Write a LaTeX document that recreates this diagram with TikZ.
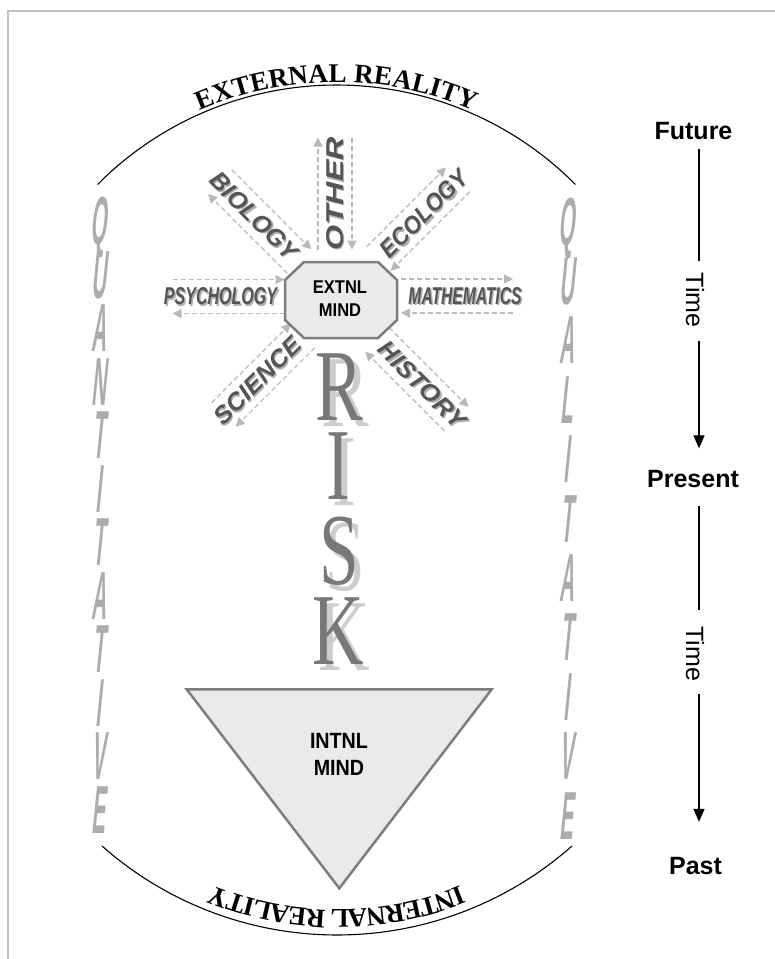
\documentclass[tikz,border=0pt]{standalone}
\usepackage{fontspec}
\setmainfont{Liberation Sans}
\newfontfamily\serifface{Liberation Serif}
\newfontfamily\mindface{Liberation Sans Bold}
\usetikzlibrary{arrows.meta,decorations.text,calc}
\definecolor{framegray}{RGB}{195,195,195}
\definecolor{spokegray}{RGB}{185,185,185}
\definecolor{labeldark}{RGB}{85,85,85}
\definecolor{labelshadow}{RGB}{175,175,175}
\definecolor{riskmain}{RGB}{120,120,120}
\definecolor{riskshadow}{RGB}{205,205,205}
\definecolor{sidegray}{RGB}{172,172,172}
\definecolor{boxfill}{RGB}{234,234,234}
\definecolor{boxline}{RGB}{125,125,125}
\newcommand{\realityfont}{\fontsize{27}{27}\selectfont\serifface\bfseries}
\newcommand{\spoketext}[1]{\resizebox{113pt}{17pt}{\bfseries\itshape #1}}
\newcommand{\sideletter}[1]{\scalebox{0.3}[1]{\fontsize{68}{68}\selectfont\bfseries #1}}
\newcommand{\riskletter}[1]{\scalebox{0.7}[1]{\fontsize{102}{102}\selectfont\serifface #1}}
\newcommand{\mindline}[2]{\scalebox{1}[1.12]{\fontsize{#1}{#1}\selectfont\bfseries #2}}
\tikzset{
  spoke/.style={draw=spokegray, line width=1.2pt, dash pattern=on 5pt off 3pt,
    -{Triangle[length=9pt,width=9pt]}},
  spokelabel/.style={inner sep=0pt, text=labeldark},
  spokeshadow/.style={inner sep=0pt, text=labelshadow},
  sidechar/.style={inner sep=0pt, text=sidegray, text height=48pt, text depth=0pt, xslant=0.1},
  riskchar/.style={inner sep=0pt, text=riskmain, text height=67pt, text depth=0pt},
  riskshade/.style={inner sep=0pt, text=riskshadow, text height=67pt, text depth=0pt},
  mindbox/.style={draw=boxline, fill=boxfill, line width=2.5pt, line join=miter},
  mindword/.style={inner sep=0pt, text=black},
  timelbl/.style={inner sep=0pt, text height=18pt, text depth=0pt, font=\fontsize{25}{25}\selectfont\bfseries},
  timeword/.style={inner sep=0pt, text height=18pt, text depth=0pt, font=\fontsize{25}{25}\selectfont, rotate=-90},
  timeline/.style={draw=black, line width=1.3pt},
  timearrow/.style={timeline, -{Triangle[length=13pt,width=11pt]}},
  realityarc/.style={draw=black, line width=1.1pt},
}
\begin{document}
\begin{tikzpicture}[x=1pt,y=-1pt]
\useasboundingbox (0,0) rectangle (775,959);
\fill[white] (0,0) rectangle (775,959);
% frame
\draw[framegray, line width=2pt] (7.5,959) -- (7.5,10.5) -- (775,10.5);

% reality arcs
\draw[realityarc] plot[domain=224.8:315.2, samples=80] ({336.5+336.8*cos(\x)},{421.8+336.8*sin(\x)});
\path[decorate, decoration={text along path, text={|\realityfont|EXTERNAL REALITY}, text align=center, raise=3pt}]
  plot[domain=224.8:315.2, samples=80] ({336.5+336.8*cos(\x)},{421.8+336.8*sin(\x)});
\draw[realityarc] plot[domain=48.5:131.5, samples=80] ({337+354.8*cos(\x)},{580.2+354.8*sin(\x)});
\path[decorate, decoration={text along path, text={|\realityfont|INTERNAL REALITY}, text align=center, raise=-25pt}]
  plot[domain=48.5:131.5, samples=80] ({337+354.8*cos(\x)},{580.2+354.8*sin(\x)});

% side words
\foreach \c [count=\i from 0] in {Q,U,A,N,T,I,T,A,T,I,V,E}
  \node[sidechar] (quan\i) at (101,{220.5+53.5*\i}) {\sideletter{\c}};
\foreach \c [count=\i from 0] in {Q,U,A,L,I,T,A,T,I,V,E}
  \node[sidechar] (qual\i) at (569,{221+59.4*\i}) {\sideletter{\c}};

% spokes
\foreach \nm/\lab/\ang/\rot/\lx/\ly/\sh in {psy/PSYCHOLOGY/180/0/220.5/296.5/8, mat/MATHEMATICS/0/0/465/296/8, oth/OTHER/270/90/335/193.5/0, bio/BIOLOGY/225/-45/254/216/8, eco/ECOLOGY/315/45/424/213.5/8, sci/SCIENCE/135/45/257.5/380.8/8, his/HISTORY/45/-45/422.5/385/8}{
  \coordinate (\nm-c) at ({\lx-\sh*cos(\ang)},{\ly-\sh*sin(\ang)});
  \coordinate (\nm-io) at ($(\nm-c)+({56*cos(\ang)-17*sin(\ang)},{56*sin(\ang)+17*cos(\ang)})$);
  \coordinate (\nm-ii) at ($(\nm-c)+({-56*cos(\ang)-17*sin(\ang)},{-56*sin(\ang)+17*cos(\ang)})$);
  \coordinate (\nm-oi) at ($(\nm-c)+({-56*cos(\ang)+17*sin(\ang)},{-56*sin(\ang)-17*cos(\ang)})$);
  \coordinate (\nm-oo) at ($(\nm-c)+({56*cos(\ang)+17*sin(\ang)},{56*sin(\ang)-17*cos(\ang)})$);
  \draw[spoke] (\nm-io) -- (\nm-ii);
  \draw[spoke] (\nm-oi) -- (\nm-oo);
  \node[spokeshadow, rotate=\rot] (\nm-sh) at ({\lx+1.5},{\ly+1.5}) {\spoketext{\lab}};
  \node[spokelabel, rotate=\rot] (\nm) at (\lx,\ly) {\spoketext{\lab}};
}

% external mind octagon
\draw[mindbox] (304,262) -- (378,262) -- (397,280) -- (397,320) -- (378,338) -- (304,338) -- (285,320) -- (285,280) -- cycle;
\node[mindword] (ext1) at (340,287) {\mindline{16.5}{EXTNL}};
\node[mindword] (ext2) at (340,310.3) {\mindline{16.5}{MIND}};

% RISK
\foreach \c/\yy/\xx [count=\i] in {R/386.5/339, I/466/338, S/550.5/339, K/631/338}{
  \node[riskshade] (risksh\i) at ({\xx+6},{\yy+6}) {\riskletter{\c}};
  \node[riskchar] (risk\i) at (\xx,\yy) {\riskletter{\c}};
}

% internal mind triangle
\draw[mindbox] (186.7,689.3) -- (491.7,689.3) -- (339.3,888.3) -- cycle;
\node[mindword] (int1) at (339,741.3) {\mindline{19.7}{INTNL}};
\node[mindword] (int2) at (339,768) {\mindline{19.7}{MIND}};

% time axis
\coordinate (axis) at (699,0);
\node[timelbl] (future) at (693.5,130.6) {Future};
\node[timeword] (time1) at (695,300.3) {Time};
\node[timelbl] (present) at (693,478.8) {Present};
\node[timeword] (time2) at (695,653.6) {Time};
\node[timelbl] (past) at (695.5,865) {Past};
\draw[timeline, shorten <=9pt, shorten >=12pt] (future.south -| axis) -- (time1.west -| axis);
\draw[timearrow, shorten <=12.7pt, shorten >=21.3pt] (time1.east -| axis) -- (present.north -| axis);
\draw[timeline, shorten <=17.8pt, shorten >=15.6pt] (present.south -| axis) -- (time2.west -| axis);
\draw[timearrow, shorten <=13pt, shorten >=34pt] (time2.east -| axis) -- (past.north -| axis);
\end{tikzpicture}
\end{document}
